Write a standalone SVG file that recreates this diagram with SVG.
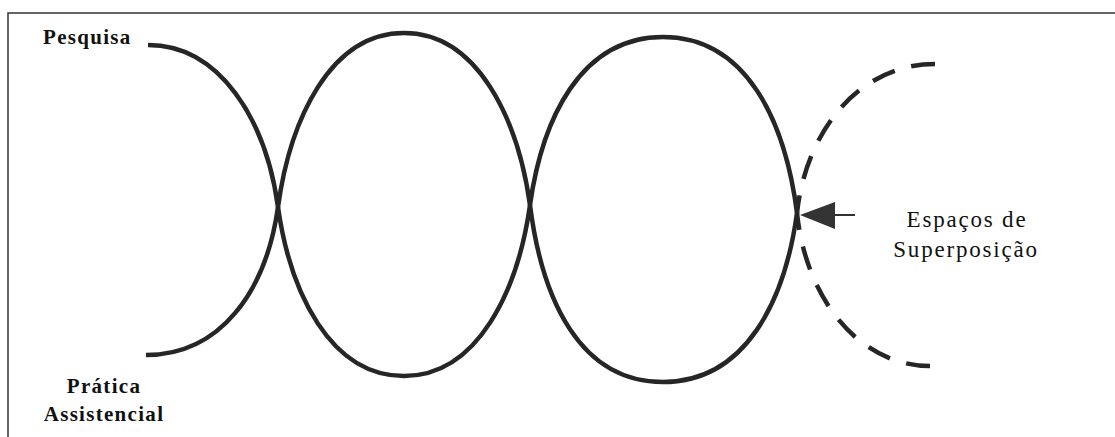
<svg xmlns="http://www.w3.org/2000/svg" width="1115" height="437" viewBox="0 0 1115 437">
<defs>
<style>
.curve{fill:none;stroke:#262626;stroke-width:4.5;stroke-linecap:butt}
.dash{fill:none;stroke:#262626;stroke-width:4.5;stroke-dasharray:24 17}
.lbl{font-family:"Liberation Serif","Times New Roman",serif;font-size:21px;font-weight:bold;fill:#111;letter-spacing:1.3px}
.lbl2{font-family:"Liberation Serif","Times New Roman",serif;font-size:23px;fill:#111;letter-spacing:1.8px}
</style>
</defs>
<rect width="1115" height="437" fill="#fff"/>
<path d="M8 437 V13 H1115" fill="none" stroke="#333" stroke-width="1.5"/>
<g id="connectors">
<path class="curve" d="M148 45 C220 45 266 120 278 207 C266 292 220 355 146 355"/>
<path class="dash" d="M935 64 C860 64 806 130 797 213"/>
<path class="dash" d="M930 366 C860 366 806 300 797 213"/>
<path d="M800 215 L835 202 L835 229 Z" fill="#333"/>
<line x1="835" y1="215" x2="855" y2="215" stroke="#333" stroke-width="2"/>
</g>
<g id="ellipse1">
<path class="curve" d="M278 207 C290 120 330 33 404 33 C478 33 518 120 530 205 C518 290 478 376 404 376 C330 376 290 292 278 207 Z"/>
</g>
<g id="ellipse2">
<path class="curve" d="M530 205 C542 120 580 37 663 37 C746 37 785 120 797 213 C785 300 746 382 663 382 C580 382 542 300 530 205 Z"/>
</g>
<g id="pesquisa"><text class="lbl" x="43" y="44">Pesquisa</text></g>
<g id="pratica">
<text class="lbl" x="104" y="393" text-anchor="middle">Prática</text>
<text class="lbl" x="104" y="421" text-anchor="middle">Assistencial</text>
</g>
<g id="espacos">
<text class="lbl2" x="967" y="227" text-anchor="middle">Espaços de</text>
<text class="lbl2" x="966" y="257" text-anchor="middle">Superposição</text>
</g>
</svg>
